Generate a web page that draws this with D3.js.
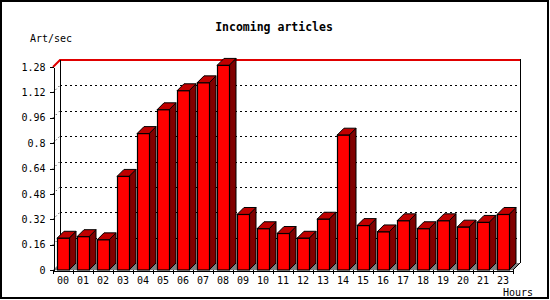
<!DOCTYPE html>
<html>
<head>
<meta charset="utf-8">
<script src="https://cdn.jsdelivr.net/npm/d3@7"></script>
<style>
  body { margin: 0; background: #fff; }
  svg text { font-family: "DejaVu Sans Mono", "Liberation Mono", monospace; }
</style>
</head>
<body>
<div id="chart"></div>
<script>
// hours on the x axis (22 is missing in the source)
const hours = ['00','01','02','03','04','05','06','07','08','09','10','11','12','13','14','15','16','17','18','19','20','21','23'];
// articles per second
const rates = [0.20, 0.21, 0.19, 0.59, 0.86, 1.01, 1.13, 1.18, 1.29, 0.35, 0.26, 0.23, 0.20, 0.32, 0.85, 0.28, 0.24, 0.31, 0.26, 0.31, 0.27, 0.30, 0.35];
const yTicks = [0, 0.16, 0.32, 0.48, 0.64, 0.8, 0.96, 1.12, 1.28];
const yTickLabels = ['0', '0.16', '0.32', '0.48', '0.64', '0.8', '0.96', '1.12', '1.28'];

const width = 550;
const height = 300;
const margin = { top: 67, right: 37, bottom: 30, left: 53 };
const depth = 7;

const svg = d3.select('#chart')
    .append('svg')
    .attr('width', width)
    .attr('height', height);

// outer frame
svg.append('rect')
    .attr('x', 1).attr('y', 1)
    .attr('width', width - 3).attr('height', height - 3)
    .attr('fill', '#fff')
    .attr('stroke', '#000')
    .attr('stroke-width', 2);

const x = d3.scaleBand()
    .domain(hours)
    .range([margin.left, width - margin.right])
    .padding(0);

const y = d3.scaleLinear()
    .domain([0, yTicks[yTicks.length - 1]])
    .range([height - margin.bottom, margin.top]);

const x0 = margin.left, x1 = width - margin.right;
const y0 = y(0), yTop = y(yTicks[yTicks.length - 1]);

// floor
svg.append('polygon')
    .attr('points', [[x0, y0], [x1, y0], [x1 + depth, y0 - depth], [x0 + depth, y0 - depth]].join(' '))
    .attr('fill', '#808080');

// back grid lines
const grid = yTicks.slice(1, -1);
svg.selectAll('.grid')
    .data(grid)
    .enter().append('line')
    .attr('x1', x0 + depth).attr('x2', x1 + depth)
    .attr('y1', d => Math.round(y(d)) - depth + 0.5)
    .attr('y2', d => Math.round(y(d)) - depth + 0.5)
    .attr('stroke', '#000')
    .attr('stroke-dasharray', '2,3')
    .attr('shape-rendering', 'crispEdges');

svg.selectAll('.wallgrid')
    .data(grid)
    .enter().append('line')
    .attr('x1', x0).attr('x2', x0 + depth)
    .attr('y1', d => y(d)).attr('y2', d => y(d) - depth)
    .attr('stroke', '#000')
    .attr('stroke-dasharray', '1,3');

// top edge in red
svg.append('polyline')
    .attr('points', [[x0, yTop], [x0 + depth, yTop - depth], [x1 + depth, yTop - depth]].join(' '))
    .attr('fill', 'none')
    .attr('stroke', '#e00000')
    .attr('stroke-width', 2);

// back wall edges
svg.append('line')
    .attr('x1', x0 + depth + 0.5).attr('x2', x0 + depth + 0.5)
    .attr('y1', yTop - depth).attr('y2', y0 - depth)
    .attr('stroke', '#000');
svg.append('line')
    .attr('x1', x1 + depth + 0.5).attr('x2', x1 + depth + 0.5)
    .attr('y1', yTop - depth - 1).attr('y2', y0 - depth)
    .attr('stroke', '#000');

// bars
const step = x.step();
const bw = step * 0.6;
const bars = svg.selectAll('.bar')
    .data(hours.map((h, i) => ({ hour: h, rate: rates[i] })))
    .enter().append('g')
    .attr('class', 'bar');

bars.append('polygon') // side
    .attr('points', d => {
        const bx = x(d.hour) + step * 0.2 + bw, by = y(d.rate);
        return [[bx, by], [bx + depth, by - depth], [bx + depth, y0 - depth], [bx, y0]].join(' ');
    })
    .attr('fill', '#800000')
    .attr('stroke', '#000');

bars.append('polygon') // top
    .attr('points', d => {
        const bx = x(d.hour) + step * 0.2, by = y(d.rate);
        return [[bx, by], [bx + depth, by - depth], [bx + bw + depth, by - depth], [bx + bw, by]].join(' ');
    })
    .attr('fill', '#c00000')
    .attr('stroke', '#000');

bars.append('rect') // front
    .attr('x', d => x(d.hour) + step * 0.2 + 0.5)
    .attr('y', d => y(d.rate))
    .attr('width', bw)
    .attr('height', d => y0 - y(d.rate))
    .attr('fill', '#ff0000')
    .attr('stroke', '#000')
    .attr('stroke-width', 1.2);

// right floor edge
svg.append('line')
    .attr('x1', x1).attr('y1', y0)
    .attr('x2', x1 + depth).attr('y2', y0 - depth)
    .attr('stroke', '#000');

// y axis
const yAxis = svg.append('g')
    .attr('transform', `translate(${x0 + 0.5}, 0)`)
    .call(d3.axisLeft(y)
        .tickValues(yTicks)
        .tickFormat((d, i) => yTickLabels[i])
        .tickSize(4)
        .tickSizeOuter(0)
        .tickPadding(4));
yAxis.selectAll('text').attr('font-size', 10).attr('fill', '#000').style('font-family', '"DejaVu Sans Mono", monospace');
yAxis.selectAll('line, path').attr('shape-rendering', 'crispEdges');

// x axis: labels at the slot centres, ticks at the slot edges
const xAxis = svg.append('g')
    .attr('transform', `translate(0, ${y0 + 0.5})`)
    .call(d3.axisBottom(x).tickSize(0).tickSizeOuter(0).tickPadding(6));
xAxis.selectAll('text').attr('font-size', 10).attr('fill', '#000').style('font-family', '"DejaVu Sans Mono", monospace');
xAxis.select('.domain').attr('shape-rendering', 'crispEdges');

svg.selectAll('.xtick')
    .data(hours)
    .enter().append('line')
    .attr('x1', d => Math.round(x(d)) + 0.5).attr('x2', d => Math.round(x(d)) + 0.5)
    .attr('y1', y0).attr('y2', y0 + 4)
    .attr('stroke', '#000');
svg.append('line')
    .attr('x1', x1 + 0.5).attr('x2', x1 + 0.5)
    .attr('y1', y0).attr('y2', y0 + 4)
    .attr('stroke', '#000');

// titles
svg.append('text')
    .attr('x', 274).attr('y', 31)
    .attr('text-anchor', 'middle')
    .attr('font-size', 11.5)
    .attr('font-weight', 'bold')
    .text('Incoming articles');

svg.append('text')
    .attr('x', 30).attr('y', 42)
    .attr('font-size', 10)
    .text('Art/sec');

svg.append('text')
    .attr('x', 533).attr('y', 296)
    .attr('text-anchor', 'end')
    .attr('font-size', 10)
    .text('Hours');
</script>
</body>
</html>
